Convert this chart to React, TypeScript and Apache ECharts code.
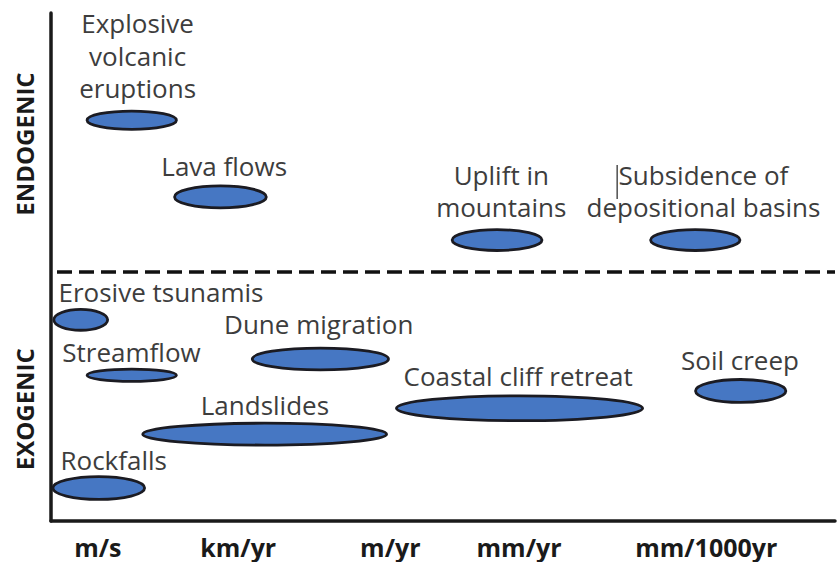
import React, { useEffect, useRef } from "react";
import * as echarts from "echarts";

// Processes (ellipses): rate range (x units) and vertical level (y units)
const processNames = [
  "Explosive volcanic eruptions",
  "Lava flows",
  "Uplift in mountains",
  "Subsidence of depositional basins",
  "Erosive tsunamis",
  "Streamflow",
  "Dune migration",
  "Landslides",
  "Rockfalls",
  "Coastal cliff retreat",
  "Soil creep",
];
const rateStart = [0.77, 2.64, 8.57, 12.81, 0.06, 0.77, 4.3, 1.96, 0.04, 7.38, 13.77];
const rateEnd = [2.68, 4.6, 10.49, 14.72, 1.21, 2.68, 7.21, 7.17, 2.0, 12.64, 15.7];
const levelCenter = [78.9, 63.8, 55.3, 55.3, 39.6, 28.7, 31.9, 17.1, 6.5, 22.2, 25.6];
const levelSpread = [3.6, 4.3, 4.1, 4.1, 4.1, 2.4, 4.3, 4.3, 4.5, 4.9, 4.5];

// Label texts and their anchors (in data units)
const labelTexts = [
  "Explosive\nvolcanic\neruptions",
  "Lava flows",
  "Uplift in\nmountains",
  "Subsidence of\ndepositional basins",
  "Erosive tsunamis",
  "Streamflow",
  "Dune migration",
  "Landslides",
  "Rockfalls",
  "Coastal cliff retreat",
  "Soil creep",
];
const labelX = [1.85, 3.7, 9.62, 13.94, 2.35, 1.72, 5.72, 4.57, 1.34, 9.98, 14.72];
const labelY = [91.6, 69.9, 65.0, 65.0, 45.1, 33.2, 38.7, 22.9, 12.1, 28.5, 31.7];

// X axis: rate units and their tick positions
const rateUnits = ["m/s", "km/yr", "m/yr", "mm/yr", "mm/1000yr"];
const unitTicks = [1, 4, 7.25, 10, 14];

// Y groups
const groups = ["ENDOGENIC", "EXOGENIC"];
const groupCenters = [74.2, 22.0];
const groupDivider = [49.0];

const X_MAX = 16.75;
const Y_MAX = 100;

export default function App() {
  const ref = useRef<HTMLDivElement>(null);
  useEffect(() => {
    if (!ref.current) return;
    const chart = echarts.init(ref.current, undefined, { renderer: "svg" });

    const ellipseData = processNames.map((n, i) => [
      rateStart[i],
      rateEnd[i],
      levelCenter[i],
      levelSpread[i],
    ]);
    const labelData = labelTexts.map((t, i) => [labelX[i], labelY[i], i]);

    const gridTop = 13;
    const gridBottom = 41;
    const plotH = 562 - gridTop - gridBottom;

    const option: any = {
      animation: false,
      backgroundColor: "#ffffff",
      grid: { left: 51, right: 0, top: gridTop, bottom: gridBottom },
      xAxis: {
        type: "value",
        min: 0,
        max: X_MAX,
        interval: 0.25,
        axisLine: { show: true, lineStyle: { color: "#1a1a1a", width: 3.5 } },
        axisTick: { show: false },
        splitLine: { show: false },
        axisLabel: {
          interval: 0,
          showMinLabel: true,
          showMaxLabel: true,
          margin: 13,
          fontSize: 25,
          fontWeight: "bold",
          fontFamily: "Open Sans",
          color: "#1a1a1a",
          formatter: (v: number) => {
            const k = unitTicks.findIndex((t) => Math.abs(t - v) < 1e-6);
            return k >= 0 ? rateUnits[k] : "";
          },
        },
      },
      yAxis: {
        type: "value",
        min: 0,
        max: Y_MAX,
        interval: 10,
        axisLine: { show: true, lineStyle: { color: "#1a1a1a", width: 3.5 } },
        axisTick: { show: false },
        axisLabel: { show: false },
        splitLine: { show: false },
      },
      graphic: [
        ...groups.map((g, i) => ({
          type: "text",
          x: 24,
          y: gridTop + plotH * (1 - groupCenters[i] / Y_MAX),
          rotation: Math.PI / 2,
          style: {
            text: g,
            fontSize: 24,
            fontWeight: "bold",
            fontFamily: "Open Sans",
            fill: "#1a1a1a",
            align: "center",
            verticalAlign: "middle",
          },
        })),
        {
          type: "rect",
          shape: { x: 616.5, y: 165, width: 1.3, height: 34 },
          style: { fill: "#333333" },
        },
      ],
      series: [
        {
          type: "custom",
          name: "processes",
          coordinateSystem: "cartesian2d",
          data: ellipseData,
          clip: false,
          renderItem: (params: any, api: any) => {
            const p0 = api.coord([api.value(0), api.value(2)]);
            const p1 = api.coord([api.value(1), api.value(2)]);
            const hp = api.size([0, api.value(3)])[1];
            return {
              type: "ellipse",
              shape: {
                cx: (p0[0] + p1[0]) / 2,
                cy: p0[1],
                rx: (p1[0] - p0[0]) / 2,
                ry: hp / 2,
              },
              style: { fill: "#4677c3", stroke: "#1b1b22", lineWidth: 2.8 },
            };
          },
          markLine: {
            silent: true,
            symbol: "none",
            label: { show: false },
            lineStyle: { color: "#111111", width: 3.5, type: [15, 7], dashOffset: -6 },
            data: groupDivider.map((v) => ({ yAxis: v })),
          },
        },
        {
          type: "custom",
          name: "labels",
          coordinateSystem: "cartesian2d",
          data: labelData,
          clip: false,
          renderItem: (params: any, api: any) => {
            const p = api.coord([api.value(0), api.value(1)]);
            const idx = api.value(2);
            return {
              type: "text",
              x: p[0],
              y: p[1],
              style: {
                text: labelTexts[idx],
                fontSize: 26,
                fontFamily: "Open Sans",
                fill: "#3d3d3d",
                align: "center",
                verticalAlign: "middle",
                lineHeight: 32.5,
              },
            };
          },
        },
      ],
    };
    chart.setOption(option);
    return () => chart.dispose();
  }, []);
  return (
    <div
      ref={ref}
      style={{ position: "fixed", left: 0, top: 0, width: 838, height: 562 }}
    />
  );
}
